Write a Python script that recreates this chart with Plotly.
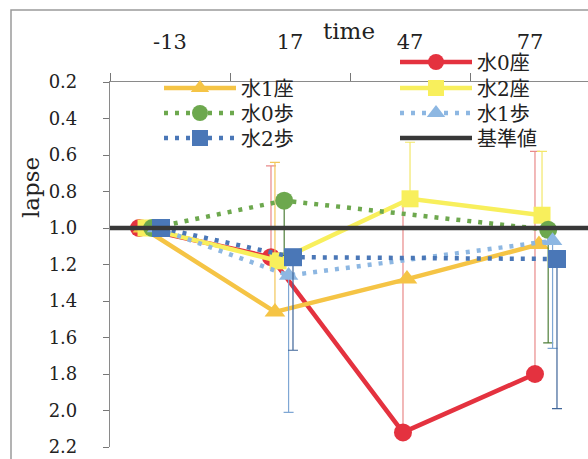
import plotly.graph_objects as go

# ---------------- data ----------------
TIME_LABELS = ["-13", "17", "47", "77"]
TIMES = [-13, 17, 47, 77]

SERIES_NAMES = ["水0座", "水1座", "水2座", "水0歩", "水1歩", "水2歩"]

w0_sit = [1.00, 1.16, 2.12, 1.80]
w1_sit = [1.00, 1.46, 1.28, 1.09]
w2_sit = [1.00, 1.18, 0.84, 0.93]
w0_walk = [1.00, 0.85, None, 1.01]
w1_walk = [1.00, 1.26, None, 1.07]
w2_walk = [1.00, 1.16, None, 1.17]

# error bars: "up" = towards smaller values (drawn upward, reversed axis), "down" = towards larger values
w0_sit_err_up = [0, 0.50, 1.25, 1.22]
w0_sit_err_dn = [0, 0, 0, 0]
w1_sit_err_up = [0, 0.82, 0, 0]
w1_sit_err_dn = [0, 0, 0, 0]
w2_sit_err_up = [0, 0, 0.31, 0.35]
w2_sit_err_dn = [0, 0, 0, 0]
w0_walk_err_up = [0, 0, 0, 0]
w0_walk_err_dn = [0, 0.30, 0, 0.62]
w1_walk_err_up = [0, 0, 0, 0]
w1_walk_err_dn = [0, 0.75, 0, 0.59]
w2_walk_err_up = [0, 0, 0, 0]
w2_walk_err_dn = [0, 0.51, 0, 0.82]

BASELINE_NAME = "基準値"
BASELINE_VALUE = 1.0

Y_TICKS = [0.2, 0.4, 0.6, 0.8, 1.0, 1.2, 1.4, 1.6, 1.8, 2.0, 2.2]

# ---------------- styling ----------------
W, H = 588, 459
ML, MR, MT, MB = 110, 0, 82, 12
PW, PH = W - ML - MR, H - MT - MB

T_RANGE = [-19.59, 89.05]          # data (time) axis
CAT_RANGE = [-0.5, 3.483]          # label axis
Y_RANGE = [2.2, 0.2]

SERIF = "DejaVu Serif, Noto Sans CJK JP, serif"
JP = "DejaVu Serif, Noto Sans CJK JP, sans-serif"

styles = [
    dict(color="#E4323F", symbol="circle", size=18, dash="solid", width=4.5, errc="#E98A8A", offset=0.0),
    dict(color="#F5C445", symbol="triangle-up", size=18, dash="solid", width=4.5, errc="#F2C75A", offset=0.9),
    dict(color="#F8EF5C", symbol="square", size=17, dash="solid", width=4.5, errc="#F3E76A", offset=1.6),
    dict(color="#6DA84E", symbol="circle", size=18, dash="4px,7px", width=4.5, errc="#4F7F3A", offset=3.0),
    dict(color="#8DB7E2", symbol="triangle-up", size=17, dash="4px,7px", width=4.5, errc="#7FA7D4", offset=4.0),
    dict(color="#4A77B7", symbol="square", size=18, dash="4px,7px", width=4.5, errc="#3F6599", offset=5.0),
]

values = [w0_sit, w1_sit, w2_sit, w0_walk, w1_walk, w2_walk]
err_up = [w0_sit_err_up, w1_sit_err_up, w2_sit_err_up, w0_walk_err_up, w1_walk_err_up, w2_walk_err_up]
err_dn = [w0_sit_err_dn, w1_sit_err_dn, w2_sit_err_dn, w0_walk_err_dn, w1_walk_err_dn, w2_walk_err_dn]

# legend placement (pixel centres of marker, row y)
legend_pos = {
    "水0座": (433, 62), "水2座": (433, 88), "水1歩": (433, 113), "基準値": (433, 138),
    "水1座": (197, 88), "水0歩": (197, 113), "水2歩": (197, 138),
}
legend_order = ["水0座", "水1座", "水2座", "水0歩", "水1歩", "水2歩", "基準値"]
legend_id = {n: ("legend" if i == 0 else f"legend{i+1}") for i, n in enumerate(legend_order)}
ITEMW = 72

def px2paper_x(px):
    return (px - ML) / PW

def px2paper_y(py):
    return (H - MB - py) / PH

fig = go.Figure()

for name, vals, st, eu, ed in zip(SERIES_NAMES, values, styles, err_up, err_dn):
    xs = [t + st["offset"] for t in TIMES]
    fig.add_trace(go.Scatter(
        x=xs, y=vals, name=name, mode="lines+markers",
        connectgaps=True,
        line=dict(color=st["color"], width=st["width"], dash=st["dash"]),
        marker=dict(color=st["color"], symbol=st["symbol"], size=st["size"], line=dict(width=0)),
        error_y=dict(type="data", symmetric=False, array=ed, arrayminus=eu,
                     color=st["errc"], thickness=1.2, width=5),
        legend=legend_id[name],
        xaxis="x", yaxis="y",
    ))

# baseline
fig.add_trace(go.Scatter(
    x=T_RANGE, y=[BASELINE_VALUE, BASELINE_VALUE], name=BASELINE_NAME, mode="lines",
    line=dict(color="#383838", width=4.5), legend=legend_id[BASELINE_NAME],
    xaxis="x", yaxis="y",
))

# dummy trace for the label axis
fig.add_trace(go.Scatter(x=[0, 1, 2, 3], y=[None] * 4, xaxis="x2", yaxis="y",
                         showlegend=False, hoverinfo="skip", mode="markers"))

layout_legends = {}
for n in legend_order:
    cx, cy = legend_pos[n]
    layout_legends[legend_id[n]] = dict(
        x=px2paper_x(cx - 38), y=px2paper_y(cy), xanchor="left", yanchor="middle",
        bgcolor="rgba(0,0,0,0)", borderwidth=0,
        font=dict(family=JP, size=20, color="#222"),
        itemwidth=ITEMW, tracegroupgap=0,
    )

fig.update_layout(
    width=W, height=H,
    margin=dict(l=ML, r=MR, t=MT, b=MB, pad=0, autoexpand=False),
    paper_bgcolor="white", plot_bgcolor="white",
    showlegend=True,
    xaxis=dict(range=T_RANGE, visible=False, fixedrange=True),
    xaxis2=dict(
        overlaying="x", side="top", anchor="y", range=CAT_RANGE,
        tickvals=[0, 1, 2, 3], ticktext=TIME_LABELS, ticks="",
        ticklabelstandoff=24,
        minor=dict(tickvals=[-0.5, 0.5, 1.5, 2.5], ticks="outside", ticklen=8, tickcolor="#777", tickwidth=1),
        showline=True, linecolor="#8a8a8a", linewidth=1.2, showgrid=False, zeroline=False,
        tickfont=dict(family=SERIF, size=21, color="#222"),
    ),
    yaxis=dict(
        range=Y_RANGE, tickvals=Y_TICKS, ticktext=[f"{v:.1f}" for v in Y_TICKS],
        ticks="outside", ticklen=6, tickcolor="#777", tickwidth=1,
        ticklabelstandoff=22,
        showline=True, linecolor="#8a8a8a", linewidth=1.2, showgrid=False, zeroline=False,
        tickfont=dict(family=SERIF, size=18, color="#222"),
    ),
    annotations=[
        dict(text="time", x=px2paper_x(349), y=px2paper_y(31), xref="paper", yref="paper",
             showarrow=False, font=dict(family=SERIF, size=23, color="#222"),
             xanchor="center", yanchor="middle"),
        dict(text="lapse", x=px2paper_x(31), y=px2paper_y(188), xref="paper", yref="paper",
             showarrow=False, textangle=-90, font=dict(family=SERIF, size=23, color="#222"),
             xanchor="center", yanchor="middle"),
    ],
    shapes=[
        dict(type="rect", xref="paper", yref="paper",
             x0=px2paper_x(11), x1=px2paper_x(620), y0=px2paper_y(480), y1=px2paper_y(10),
             line=dict(color="#9a9a9a", width=1.5), fillcolor="rgba(0,0,0,0)", layer="below"),
    ],
    **layout_legends,
)

fig.write_html("out.html", config={"displayModeBar": False},
               post_script="document.body.style.margin='0px';")
